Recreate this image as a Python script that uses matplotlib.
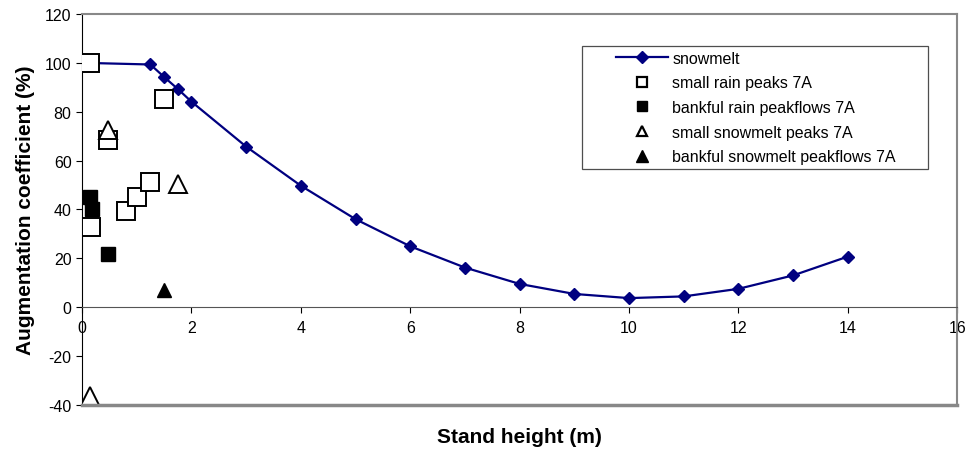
import matplotlib
matplotlib.use("Agg")
import matplotlib.pyplot as plt
from matplotlib.lines import Line2D
from matplotlib.legend_handler import HandlerLine2D

plt.rcParams["font.family"] = ["Liberation Sans", "DejaVu Sans"]
plt.rcParams["axes.unicode_minus"] = False

# snowmelt curve
snow_x = [0, 1.25, 1.5, 1.75, 2, 3, 4, 5, 6, 7, 8, 9, 10, 11, 12, 13, 14]
snow_y = [100, 99.3, 94.2, 89.3, 84.1, 65.7, 49.7, 36, 24.9, 16.2, 9.5, 5.4,
          3.7, 4.4, 7.5, 13, 20.7]

# observed points
small_rain_x = [0.15, 1.5, 0.48, 0.8, 1.0, 1.25, 0.17]
small_rain_y = [100, 85.2, 68.5, 39.2, 45, 51.3, 33]
bank_rain_x = [0.14, 0.18, 0.48]
bank_rain_y = [45, 40, 21.8]
small_snow_x = [0.48, 1.75, 0.14]
small_snow_y = [72.5, 50.6, -36.2]
bank_snow_x = [1.5]
bank_snow_y = [6.9]

x_ticks = [0, 2, 4, 6, 8, 10, 12, 14, 16]
y_ticks = [-40, -20, 0, 20, 40, 60, 80, 100, 120]

labels = ["snowmelt", "small rain peaks 7A", "bankful rain peakflows 7A",
          "small snowmelt peaks 7A", "bankful snowmelt peakflows 7A"]

NAVY = "#000080"
GREY = "#888888"

fig = plt.figure(figsize=(9.65, 4.52), dpi=100)
ax = fig.add_axes([0.085, 0.102, 0.907, 0.865])

ax.plot(snow_x, snow_y, color=NAVY, lw=1.6, marker="D", ms=6.6,
        mfc=NAVY, mec=NAVY, zorder=3)
ax.plot(small_rain_x, small_rain_y, ls="none", marker="s", ms=12.5,
        mfc="white", mec="black", mew=1.4, zorder=4)
ax.plot(bank_rain_x, bank_rain_y, ls="none", marker="s", ms=10,
        mfc="black", mec="black", zorder=4)
ax.plot(small_snow_x, small_snow_y, ls="none", marker="^", ms=13.5,
        mfc="white", mec="black", mew=1.4, zorder=4)
ax.plot(bank_snow_x, bank_snow_y, ls="none", marker="^", ms=10,
        mfc="black", mec="black", zorder=4)

ax.set_xlim(0, 16)
ax.set_ylim(-40, 120)
ax.set_xticks(x_ticks)
ax.set_yticks(y_ticks)
ax.tick_params(axis="both", labelsize=11.5, length=4, color="black")
ax.tick_params(axis="x", direction="out", pad=5)

# x axis sits at y = 0, frame drawn in grey
ax.spines["bottom"].set_position(("data", 0))
ax.spines["bottom"].set_color("#555555")
ax.spines["left"].set_color("black")
for s in ["top", "right"]:
    ax.spines[s].set_color(GREY)
    ax.spines[s].set_linewidth(1.5)
ax.plot([0, 1], [0, 0], transform=ax.transAxes, color=GREY, lw=2.5,
        clip_on=False, zorder=5)

ax.set_ylabel("Augmentation coefficient (%)", fontsize=15, fontweight="bold",
              labelpad=7)
fig.text(0.538, 0.032, "Stand height (m)", fontsize=15,
         fontweight="bold", ha="center", va="center")

# legend (smaller symbols than on the plot)
handles = [
    Line2D([], [], color=NAVY, lw=1.6, marker="D", ms=6.6, mfc=NAVY, mec=NAVY),
    Line2D([], [], ls="none", marker="s", ms=7, mfc="white", mec="black",
           mew=1.6),
    Line2D([], [], ls="none", marker="s", ms=7.5, mfc="black", mec="black"),
    Line2D([], [], ls="none", marker="^", ms=7.5, mfc="white", mec="black",
           mew=1.6),
    Line2D([], [], ls="none", marker="^", ms=8, mfc="black", mec="black"),
]
leg = ax.legend(handles, labels, loc="upper left",
                bbox_to_anchor=(0.5714, 0.0, 0.3954, 0.918), mode="expand",
                borderaxespad=0, fontsize=11.5, frameon=True, fancybox=False,
                edgecolor="#222222", borderpad=0.3, labelspacing=0.6,
                handlelength=5.1, handletextpad=0.25,
                handler_map={Line2D: HandlerLine2D(xpad=1.8)})
leg.get_frame().set_linewidth(0.9)

fig.savefig("out.png", dpi=100)
